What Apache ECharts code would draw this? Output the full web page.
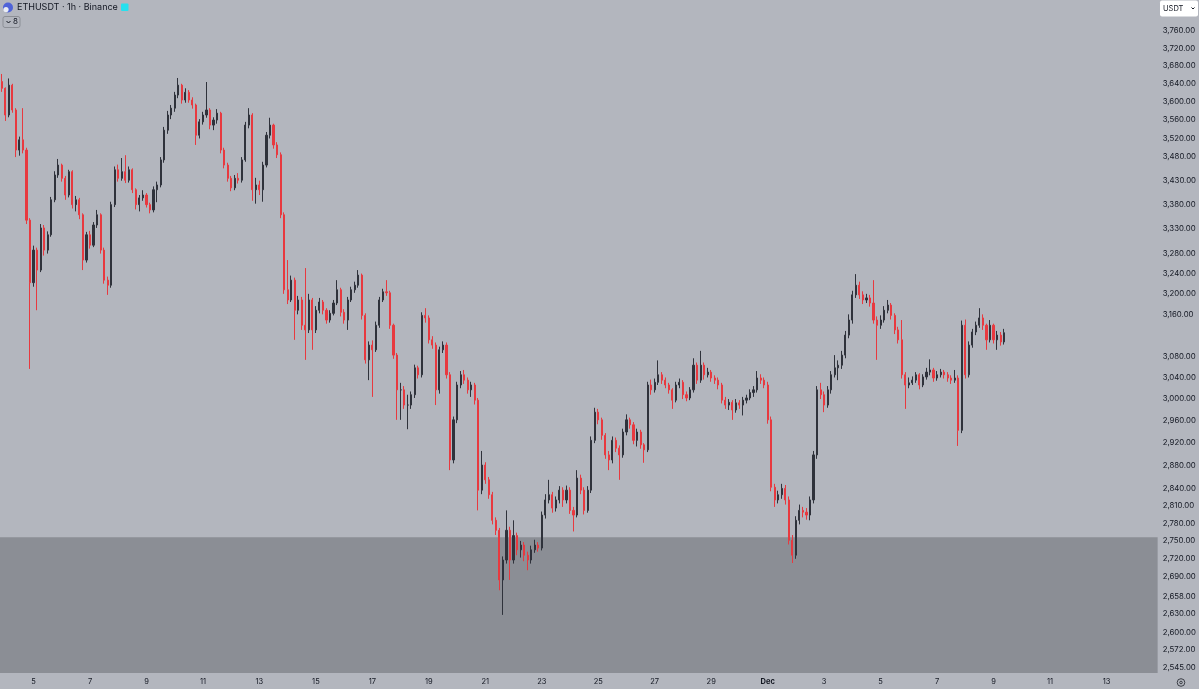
<!DOCTYPE html>
<html>
<head>
<meta charset="utf-8">
<title>ETHUSDT 1h</title>
<script src="https://cdn.jsdelivr.net/npm/echarts@6/dist/echarts.min.js"></script>
<style>
  html, body { margin: 0; padding: 0; background: #b3b6be; }
  #chart { width: 1199px; height: 689px; }
</style>
</head>
<body>
<div id="chart"></div>
<script>
// 3h candles, Nov 3 21:00 -> Dec 9 09:00 (UTC)
const startTime = Date.UTC(2025, 10, 3, 21);
const stepMs = 3 * 3600 * 1000;
const slotCount = 328; // axis keeps going to ~Dec 14
const firstOpen = 3645;

const closes = [
  3630,3571,3637,3582,3495,3517,3495,3348,3222,3287,
  3247,3332,3287,3318,3390,3442,3463,3435,3400,3449,
  3380,3390,3359,3267,3318,3297,3338,3359,3287,3227,
  3217,3380,3453,3435,3449,3431,3453,3411,3380,3394,
  3400,3380,3369,3411,3421,3474,3538,3571,3586,3615,
  3637,3604,3621,3604,3593,3527,3556,3571,3582,3549,
  3560,3575,3495,3463,3435,3415,3435,3431,3474,3549,
  3571,3411,3421,3411,3463,3527,3549,3506,3485,3359,
  3208,3188,3227,3168,3188,3139,3130,3188,3130,3168,
  3184,3168,3149,3162,3182,3208,3164,3149,3188,3208,
  3217,3237,3158,3073,3101,3092,3139,3188,3204,3202,
  3139,3082,3017,3017,2989,2989,3008,3058,3045,3158,
  3153,3111,3101,3017,3092,3101,3045,2890,2962,3026,
  3045,3035,3017,3026,2998,2837,2881,2855,2829,2785,
  2768,2685,2718,2768,2718,2759,2735,2743,2726,2718,
  2735,2743,2738,2794,2820,2829,2806,2820,2837,2820,
  2837,2802,2794,2858,2837,2802,2837,2925,2976,2962,
  2934,2899,2890,2925,2911,2899,2940,2962,2953,2925,
  2940,2917,2908,3026,3017,3031,3045,3035,3026,3017,
  2998,3026,3031,3008,3002,3017,3063,3035,3063,3045,
  3050,3039,3035,3026,2998,2989,2994,2980,2993,2989,
  2998,3002,3012,3017,3039,3035,3026,2962,2842,2820,
  2829,2840,2820,2751,2726,2785,2802,2799,2794,2820,
  2899,3017,3008,2989,3017,3045,3058,3063,3082,3120,
  3149,3198,3217,3198,3188,3192,3182,3149,3139,3149,
  3168,3178,3158,3130,3111,3045,3026,3030,3035,3045,
  3026,3041,3050,3054,3039,3045,3050,3045,3039,3035,
  3039,2943,3139,3045,3101,3126,3139,3153,3139,3111,
  3139,3111,3120,3107,3124.58
];

const highs = [
  3662,3632,3652,3640,3586,3524,3586,3500,3352,3296,
  3292,3340,3338,3325,3396,3450,3476,3466,3440,3453,
  3452,3398,3394,3362,3324,3326,3344,3369,3362,3292,
  3234,3386,3460,3464,3478,3484,3460,3456,3414,3400,
  3410,3404,3384,3418,3428,3480,3545,3580,3593,3622,
  3653,3640,3630,3626,3610,3596,3562,3578,3644,3586,
  3566,3584,3578,3500,3468,3440,3442,3446,3480,3556,
  3586,3575,3436,3430,3470,3534,3565,3552,3512,3490,
  3364,3267,3236,3232,3196,3194,3251,3200,3192,3176,
  3192,3188,3172,3168,3188,3227,3212,3170,3194,3214,
  3224,3247,3240,3162,3108,3110,3146,3194,3210,3227,
  3206,3142,3086,3030,3024,3008,3014,3064,3062,3164,
  3172,3158,3118,3106,3098,3108,3106,3050,2968,3032,
  3052,3054,3040,3032,3030,3002,2906,2886,2860,2834,
  2790,2772,2724,2802,2774,2785,2764,2750,2748,2732,
  2742,2752,2748,2800,2830,2855,2834,2826,2844,2842,
  2845,2842,2808,2872,2864,2842,2844,2932,2984,2982,
  2966,2938,2906,2932,2930,2916,2946,2972,2966,2958,
  2946,2944,2920,3032,3036,3038,3072,3050,3040,3030,
  3020,3032,3038,3035,3014,3022,3076,3068,3090,3068,
  3058,3054,3044,3040,3030,3004,3000,2998,3000,2998,
  3004,3008,3018,3024,3052,3046,3040,3032,2968,2848,
  2836,2848,2846,2826,2760,2792,2812,2808,2806,2826,
  2906,3024,3030,3014,3024,3052,3082,3072,3090,3128,
  3160,3206,3239,3224,3205,3200,3198,3227,3156,3158,
  3176,3188,3182,3162,3136,3149,3050,3040,3042,3050,
  3048,3046,3058,3074,3058,3052,3056,3054,3050,3044,
  3054,3044,3148,3150,3108,3132,3146,3172,3160,3142,
  3149,3142,3128,3126,3132
];

const lows = [
  3622,3558,3566,3576,3480,3483,3488,3340,3056,3214,
  3168,3243,3276,3280,3314,3385,3436,3428,3390,3395,
  3372,3366,3350,3247,3262,3290,3293,3332,3280,3220,
  3198,3212,3375,3428,3430,3425,3426,3404,3370,3366,
  3388,3374,3362,3364,3385,3416,3468,3530,3562,3578,
  3608,3596,3598,3598,3585,3506,3520,3550,3565,3540,
  3538,3552,3488,3456,3428,3408,3410,3424,3426,3470,
  3542,3388,3382,3400,3386,3458,3520,3498,3478,3352,
  3200,3180,3184,3111,3160,3130,3073,3124,3092,3124,
  3162,3160,3142,3144,3158,3178,3156,3142,3130,3184,
  3202,3212,3150,3066,3035,3004,3088,3134,3184,3196,
  3132,3075,2962,2962,2982,2945,2982,3002,3038,3040,
  3144,3104,3094,2989,3010,3086,3038,2872,2884,2956,
  3020,3028,3010,3004,2990,2802,2830,2848,2822,2778,
  2760,2668,2628,2712,2685,2712,2726,2722,2716,2701,
  2712,2730,2732,2734,2788,2814,2798,2800,2814,2808,
  2814,2796,2766,2790,2830,2795,2798,2832,2920,2954,
  2926,2892,2872,2884,2904,2855,2894,2934,2946,2918,
  2914,2910,2885,2904,3008,3012,3026,3028,3020,3010,
  2982,2994,3020,3000,2996,2998,3012,3028,3030,3036,
  3040,3032,3028,3018,2992,2982,2980,2962,2975,2982,
  2970,2992,2998,3004,3012,3028,3020,2955,2835,2808,
  2814,2822,2812,2744,2713,2720,2778,2790,2786,2785,
  2814,2892,3000,2976,2984,3010,3040,3035,3056,3076,
  3114,3142,3192,3190,3180,3182,3175,3142,3073,3132,
  3144,3162,3150,3122,3104,3038,2982,3020,3026,3030,
  3018,3022,3036,3044,3032,3034,3040,3038,3032,3028,
  3030,2915,2938,3038,3040,3096,3120,3134,3130,3092,
  3106,3104,3092,3100,3102
];

const priceTicks = [
  3760, 3720, 3680, 3640, 3600, 3560, 3520, 3480, 3430, 3380, 3330, 3280,
  3240, 3200, 3160, 3080, 3040, 3000, 2960, 2920, 2880, 2840, 2810, 2780,
  2750, 2720, 2690, 2658, 2630, 2600, 2572, 2545
];
const lastPrice = 3124.58;
const countdown = '05:06';
const zoneTop = 2756;
const yMin = 2536;
const yMax = 3832;

const months = ['Jan','Feb','Mar','Apr','May','Jun','Jul','Aug','Sep','Oct','Nov','Dec'];
const labelFrom = Date.UTC(2025, 10, 5);

const categories = [];
const labelSlots = new Set();
for (let i = 0; i < slotCount; i++) {
  const t = startTime + i * stepMs;
  const d = new Date(t);
  categories.push((d.getUTCMonth() + 1) + '-' + d.getUTCDate() + ' ' + d.getUTCHours() + ':00');
  const days = (t - labelFrom) / 86400000;
  if (d.getUTCHours() === 0 && days >= 0 && days % 2 === 0) labelSlots.add(i);
}

const candles = closes.map((c, i) => {
  const o = i === 0 ? firstOpen : closes[i - 1];
  return [o, c, lows[i], highs[i]];
});

const fmt = v => v.toLocaleString('en-US', { minimumFractionDigits: 2, maximumFractionDigits: 2 });
const font = 'Inter, "Noto Sans", sans-serif';
const ink = '#131722';
const upColor = '#2f323b';
const downColor = '#e8393f';

const chart = echarts.init(document.getElementById('chart'));
chart.setOption({
  animation: false,
  backgroundColor: '#b3b6be',
  grid: { left: 0, right: 40, top: 0, bottom: 16 },
  xAxis: {
    type: 'category',
    data: categories,
    boundaryGap: true,
    axisLine: { show: false },
    axisTick: { show: false },
    splitLine: { show: false },
    axisLabel: {
      interval: idx => labelSlots.has(idx),
      margin: 5,
      fontFamily: font,
      fontSize: 7.5,
      color: ink,
      formatter: (val, idx) => {
        const d = new Date(startTime + idx * stepMs);
        const day = d.getUTCDate();
        return day === 1 ? '{b|' + months[d.getUTCMonth()] + '}' : String(day);
      },
      rich: { b: { fontWeight: 'bold', fontFamily: font, fontSize: 7.5, color: ink } }
    }
  },
  yAxis: {
    type: 'log',
    logBase: 10,
    position: 'right',
    min: yMin,
    max: yMax,
    axisLine: { show: false },
    axisTick: { show: false },
    splitLine: { show: false },
    axisLabel: {
      customValues: priceTicks,
      margin: 5,
      fontFamily: font,
      fontSize: 7.8,
      color: ink,
      formatter: v => fmt(Math.round(v))
    }
  },
  series: [{
    type: 'candlestick',
    data: candles,
    barWidth: 1.6,
    itemStyle: {
      color: upColor,
      color0: downColor,
      borderColor: upColor,
      borderColor0: downColor,
      borderWidth: 1
    },
    markArea: {
      silent: true,
      itemStyle: { color: '#8b8e95' },
      data: [[{ yAxis: zoneTop }, { yAxis: yMin }]]
    },
    markLine: {
      silent: true,
      symbol: 'none',
      lineStyle: { opacity: 0 },
      label: {
        position: 'end',
        distance: 0,
        formatter: () => fmt(lastPrice) + '\n' + countdown,
        color: '#fff',
        backgroundColor: '#f0403f',
        fontFamily: font,
        fontSize: 7.5,
        lineHeight: 6.5,
        padding: [0.5, 3, 0.5, 3],
        width: 30
      },
      data: [{ yAxis: lastPrice }]
    }
  }],
  graphic: [
    // symbol header
    { type: 'circle', shape: { cx: 8, cy: 7.5, r: 5 }, style: { fill: '#4f63d8' } },
    { type: 'circle', shape: { cx: 6, cy: 9.5, r: 2.6 }, style: { fill: '#e9ecf5' } },
    { type: 'text', x: 17, y: 7.5, style: { text: 'ETHUSDT · 1h · Binance', font: '9px ' + font, fill: ink, verticalAlign: 'middle' } },
    { type: 'rect', shape: { x: 121, y: 3.5, width: 7.5, height: 7.5, r: 1 }, style: { fill: '#27e0ee' } },
    { type: 'rect', shape: { x: 3, y: 16.5, width: 17, height: 11, r: 2 }, style: { fill: 'none', stroke: '#8c8f96', lineWidth: 1 } },
    { type: 'polyline', shape: { points: [[6.5, 21], [8.5, 23], [10.5, 21]] }, style: { stroke: ink, fill: 'none', lineWidth: 1 } },
    { type: 'text', x: 13, y: 22, style: { text: '8', font: '8px ' + font, fill: ink, verticalAlign: 'middle' } },
    // currency button
    { type: 'rect', shape: { x: 1160, y: 0.5, width: 38, height: 16, r: 2 }, style: { fill: '#ffffff' } },
    { type: 'text', x: 1163, y: 8.5, style: { text: 'USDT', font: '7.5px ' + font, fill: ink, verticalAlign: 'middle' } },
    { type: 'polyline', shape: { points: [[1191.5, 7.5], [1193, 9], [1194.5, 7.5]] }, style: { stroke: ink, fill: 'none', lineWidth: 1 } },
    // TV PRO badge
    { type: 'text', x: 4, y: 661, style: { text: 'TV', font: 'italic 900 11px ' + font, fill: ink, stroke: '#ffffff', lineWidth: 1.5, verticalAlign: 'middle' } },
    { type: 'polygon', shape: { points: [[24, 657], [46, 657], [43, 666], [21, 666]] }, style: { fill: ink } },
    { type: 'text', x: 33.5, y: 661.5, style: { text: 'PRO', font: 'bold 6px ' + font, fill: '#ffffff', align: 'center', verticalAlign: 'middle' } },
    // settings icon
    { type: 'circle', shape: { cx: 1181, cy: 682.5, r: 3.8 }, style: { fill: 'none', stroke: '#3b3e46', lineWidth: 1 } },
    { type: 'circle', shape: { cx: 1181, cy: 682.5, r: 1.3 }, style: { fill: 'none', stroke: '#3b3e46', lineWidth: 1 } }
  ]
});
</script>
</body>
</html>
